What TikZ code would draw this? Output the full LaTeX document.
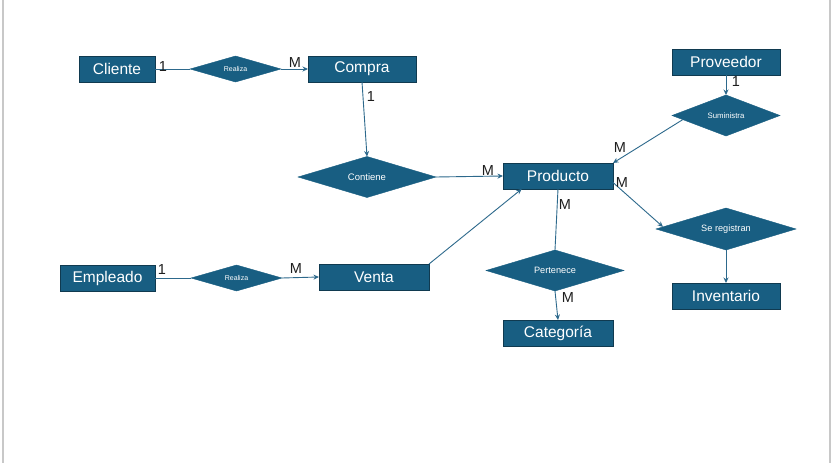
\documentclass[tikz,border=0pt]{standalone}
\usepackage{fontspec}
\setmainfont{Liberation Sans}
\usetikzlibrary{shapes.geometric,arrows.meta,calc}
\definecolor{entfill}{RGB}{24,94,130}
\definecolor{entborder}{RGB}{16,58,80}
\definecolor{linkcol}{RGB}{45,105,140}
\definecolor{pagegray}{RGB}{200,200,200}
\definecolor{cardcol}{RGB}{30,30,30}
\tikzset{
  entity/.style={draw=entborder, line width=0.9pt, fill=entfill, text=white, rectangle,
    minimum height=26pt, inner sep=0pt, outer sep=0pt, font=\fontsize{15.5}{15.5}\selectfont},
  relation/.style={diamond, draw=entfill, fill=entfill, text=white, aspect=3.5,
    inner sep=0pt, outer sep=0pt},
  link/.style={draw=linkcol, line width=0.9pt},
  arrowlink/.style={link, -{Stealth[length=5.5pt,width=5pt]}},
  card/.style={text=cardcol, font=\fontsize{14.5}{14.5}\selectfont, inner sep=0pt},
}
\begin{document}
\begin{tikzpicture}[x=1pt,y=-1pt]
\useasboundingbox (0,0) rectangle (831,463);
\fill[white] (0,0) rectangle (831,463);
\draw[pagegray, line width=1.5pt] (3,0) -- (3,463);
\draw[pagegray, line width=1.5pt] (830,0) -- (830,463);

% entities
\node[entity, minimum width=76pt] (cliente) at (117,69) {Cliente};
\node[entity, minimum width=108pt] (compra) at (362,69) {Compra};
\node[entity, minimum width=108pt] (prov) at (726,62) {Proveedor};
\node[entity, minimum width=110pt] (prod) at (558,176) {Producto};
\node[entity, minimum width=108pt] (inv) at (726,296) {Inventario};
\node[entity, minimum width=110pt] (cat) at (558,333) {Categoría};
\node[entity, minimum width=95pt] (emp) at (107.5,278) {Empleado};
\node[entity, minimum width=110pt] (venta) at (374,277) {Venta};

% relations
\node[relation, minimum width=91pt, minimum height=26pt, font=\fontsize{7}{7}\selectfont] (rea1) at (235.5,69) {Realiza};
\node[relation, minimum width=138pt, minimum height=41pt, font=\fontsize{9.5}{9.5}\selectfont] (cont) at (367,177) {Contiene};
\node[relation, minimum width=108pt, minimum height=41pt, font=\fontsize{7.8}{7.8}\selectfont] (sum) at (726,115.5) {Suministra};
\node[relation, minimum width=140pt, minimum height=42pt, font=\fontsize{9.2}{9.2}\selectfont] (sr) at (726,229) {Se registran};
\node[relation, minimum width=138pt, minimum height=41pt, font=\fontsize{9.2}{9.2}\selectfont] (pert) at (555,270.5) {Pertenece};
\node[relation, minimum width=91pt, minimum height=26pt, font=\fontsize{7}{7}\selectfont] (rea2) at (236.5,278) {Realiza};

% connectors
\draw[link] (cliente.east) -- (rea1.west);
\draw[arrowlink] (rea1.east) -- (compra.west);
\draw[arrowlink] (compra.south) -- (cont.north);
\draw[arrowlink] (cont.east) -- (prod.west);
\draw[arrowlink] (prov.south) -- (sum.north);
\draw[arrowlink] ($(sum.west)!0.2!(sum.south)$) -- (prod.north east);
\draw[arrowlink] ($(prod.east)!0.5!(prod.south east)$) -- ($(sr.west)!0.1!(sr.north)$);
\draw[arrowlink] (sr.south) -- (inv.north);
\draw[link] (prod.south) -- (pert.north);
\draw[arrowlink] (pert.south) -- (cat.north);
\draw[link] (emp.east) -- (rea2.west);
\draw[arrowlink] (rea2.east) -- (venta.west);
\draw[arrowlink] (venta.north east) -- ($(prod.south west)!0.17!(prod.south east)$);

% cardinalities
\node[card] (c1) at (163,67) {1};
\node[card] (c2) at (295,63) {M};
\node[card] (c3) at (371,97) {1};
\node[card] (c4) at (488,171) {M};
\node[card] (c5) at (736,82) {1};
\node[card] (c6) at (620,148) {M};
\node[card] (c7) at (622,183) {M};
\node[card] (c8) at (565,205) {M};
\node[card] (c9) at (568,298) {M};
\node[card] (c10) at (162,270) {1};
\node[card] (c11) at (296,269) {M};
\end{tikzpicture}
\end{document}
